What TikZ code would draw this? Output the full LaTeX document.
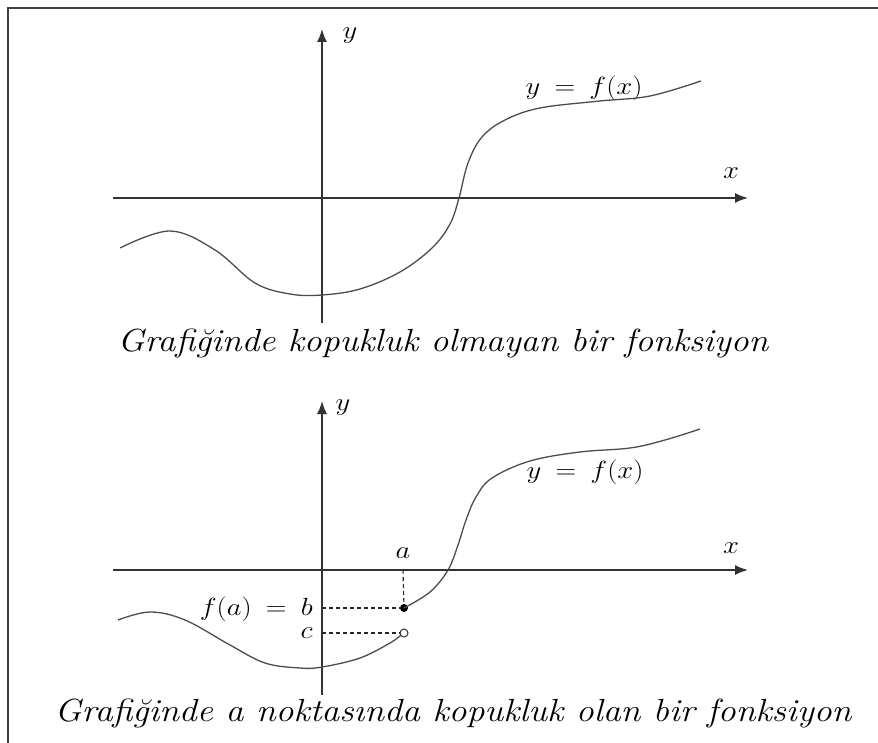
\documentclass[tikz,border=0pt]{standalone}
\usepackage{graphicx}
\usetikzlibrary{arrows.meta}
\newcommand{\wide}[2][1.15]{\scalebox{#1}[1]{#2}}
\begin{document}
\begin{tikzpicture}[x=1pt,y=-1pt,
  axis/.style={line width=1.5pt,draw=black!80,-{Latex[length=13pt,width=10pt]}},
  curve/.style={line width=1.3pt,draw=black!70},
  guide/.style={line width=1.1pt,draw=black!85,dash pattern=on 4pt off 3pt},
  lbl/.style={inner sep=0pt,font=\fontsize{28}{34}\selectfont},
  captext/.style={inner sep=0pt,font=\fontsize{32}{38}\selectfont\itshape},
  frame/.style={line width=2pt,draw=black!75}]
\useasboundingbox (0,0) rectangle (878,743);
\draw[frame] (8,743) -- (8,8) -- (878,8);
% ---------- top graph ----------
\coordinate (x1s) at (113,198);
\coordinate (x1e) at (748,198);
\coordinate (y1s) at (322,323);
\coordinate (y1e) at (322,29);
\draw[axis] (x1s) -- (x1e);
\draw[axis] (y1s) -- (y1e);
\node[lbl] (ylab1) at (350,36) {\wide{$y$}};
\node[lbl] (xlab1) at (731,173) {\wide{$x$}};
\node[lbl] (fx1) at (584,88) {\wide{$y \:=\: f(x)$}};
\draw[curve] plot[smooth,tension=0.6] coordinates {(120,248) (170,231) (215,250) (255,283) (290,294) (322,295) (360,289) (400,272) (432,248) (450,224) (459,198) (468,163) (482,137) (505,120) (540,108) (600,101) (650,96) (701,81)};
\node[captext] (cap1) at (443,343) {\wide[1.115]{Grafiğinde kopukluk olmayan bir fonksiyon}};
% ---------- bottom graph ----------
\coordinate (x2s) at (113,570);
\coordinate (x2e) at (748,570);
\coordinate (y2s) at (322,695);
\coordinate (y2e) at (322,401);
\draw[axis] (x2s) -- (x2e);
\draw[axis] (y2s) -- (y2e);
\node[lbl] (ylab2) at (343,408) {\wide{$y$}};
\node[lbl] (xlab2) at (731,548) {\wide{$x$}};
\node[lbl] (fx2) at (585,472) {\wide{$y \:=\: f(x)$}};
\node[lbl] (alab) at (403,553) {\wide{$a$}};
\coordinate (ax) at (403,570);
\coordinate (by) at (322,608);
\coordinate (cy) at (322,633);
\node[circle,fill=black,inner sep=0pt,minimum size=8pt] (bdot) at (404,608) {};
\node[circle,draw=black!80,fill=white,line width=1pt,inner sep=0pt,minimum size=8pt] (cdot) at (404,633) {};
\draw[guide] (ax) -- (bdot);
\draw[guide] (by) -- (bdot);
\draw[guide] (cy) -- (cdot.west);
\node[lbl,anchor=east,text depth=0pt] (blab) at (313,606) {\wide{$f(a) \:=\: b$}};
\node[lbl,anchor=east,text height=10pt] (clab) at (313,633) {\wide{$c$}};
\draw[curve] plot[smooth,tension=0.6] coordinates {(118,620) (150,612) (185,620) (230,645) (265,663) (300,668) (322,667) (360,658) (390,643) (401,635)};
\draw[curve] plot[smooth,tension=0.6] coordinates {(404,608) (430,592) (448,570) (458,545) (466,520) (476,497) (492,478) (530,461) (580,452) (630,448) (665,440) (700,429)};
\node[captext] (cap2) at (453,713) {\wide[1.12]{Grafiğinde a noktasında kopukluk olan bir fonksiyon}};
\end{tikzpicture}
\end{document}
